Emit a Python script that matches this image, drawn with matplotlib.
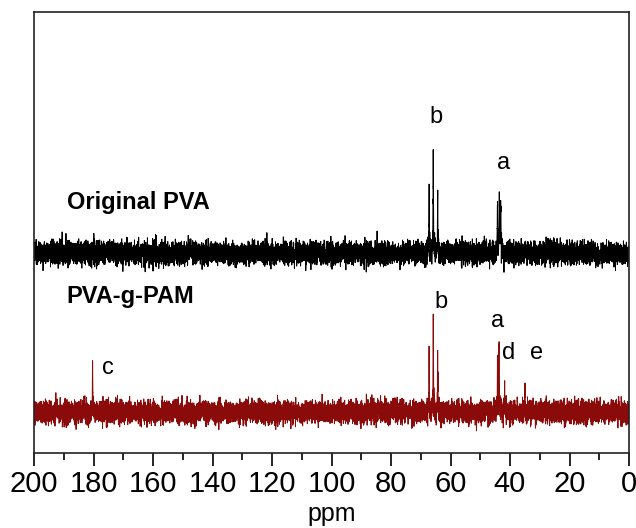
import numpy as np
import matplotlib
matplotlib.use("Agg")
import matplotlib.pyplot as plt
from matplotlib.ticker import MultipleLocator

plt.rcParams['font.family'] = ['Liberation Sans', 'DejaVu Sans']

# ---- data (intensity in arbitrary units) ----
pva_offset = 200.0
pva_peak_ppm = [67.2, 65.8, 64.3, 44.2, 43.6, 43.1]
pva_peak_height = [68, 106, 63, 52, 62, 48]

pam_offset = 41.0
pam_peak_ppm = [180.3, 67.2, 65.8, 64.3, 44.2, 43.7, 41.8, 35.0]
pam_peak_height = [47, 58, 96, 56, 52, 66, 29, 27]

peak_width = 0.08          # Lorentzian half width (ppm)
noise_level = 5.4          # baseline noise level (visual texture)

pva_labels = [("b", 64.8, 336), ("a", 42.2, 290)]
pam_labels = [("b", 63.1, 151), ("a", 44.2, 132), ("d", 40.5, 100),
              ("e", 31.0, 100), ("c", 175.0, 85)]

xticks = [200, 180, 160, 140, 120, 100, 80, 60, 40, 20, 0]

# ---- build spectra ----
ppm = np.linspace(0, 200, 11000)
rng = np.random.default_rng(7)


def spectrum(offset, centers, heights):
    y = np.full_like(ppm, offset) + rng.normal(0, noise_level, ppm.size)
    for c, h in zip(centers, heights):
        y += h * peak_width**2 / ((ppm - c)**2 + peak_width**2)
    return y


y_pva = spectrum(pva_offset, pva_peak_ppm, pva_peak_height)
y_pam = spectrum(pam_offset, pam_peak_ppm, pam_peak_height)

fig = plt.figure(figsize=(6.36, 5.28), dpi=100)
ax = fig.add_axes([34/636, 1-453/528, (629-34)/636, (453-12)/528])

ax.plot(ppm, y_pva, color='black', lw=0.7)
ax.plot(ppm, y_pam, color='#8b0a0a', lw=0.7)

ax.set_xlim(200, 0)
ax.set_ylim(0, 441)
ax.set_yticks([])
ax.set_xticks(xticks)
ax.xaxis.set_minor_locator(MultipleLocator(10))
ax.tick_params(axis='x', which='major', direction='out', length=9, width=1.2,
               labelsize=21, pad=3)
ax.tick_params(axis='x', which='minor', direction='out', length=5, width=1.2)
for s in ax.spines.values():
    s.set_linewidth(1.2)
    s.set_color('#222222')
ax.set_xlabel('ppm', fontsize=18, labelpad=3)

ax.text(189, 250, 'Original PVA', fontsize=17, fontweight='bold', va='center')
ax.text(189, 157, 'PVA-g-PAM', fontsize=17, fontweight='bold', va='center')

for t, x, y in pva_labels + pam_labels:
    ax.text(x, y, t, fontsize=17, ha='center', va='center')

fig.savefig('out.png', dpi=100)
